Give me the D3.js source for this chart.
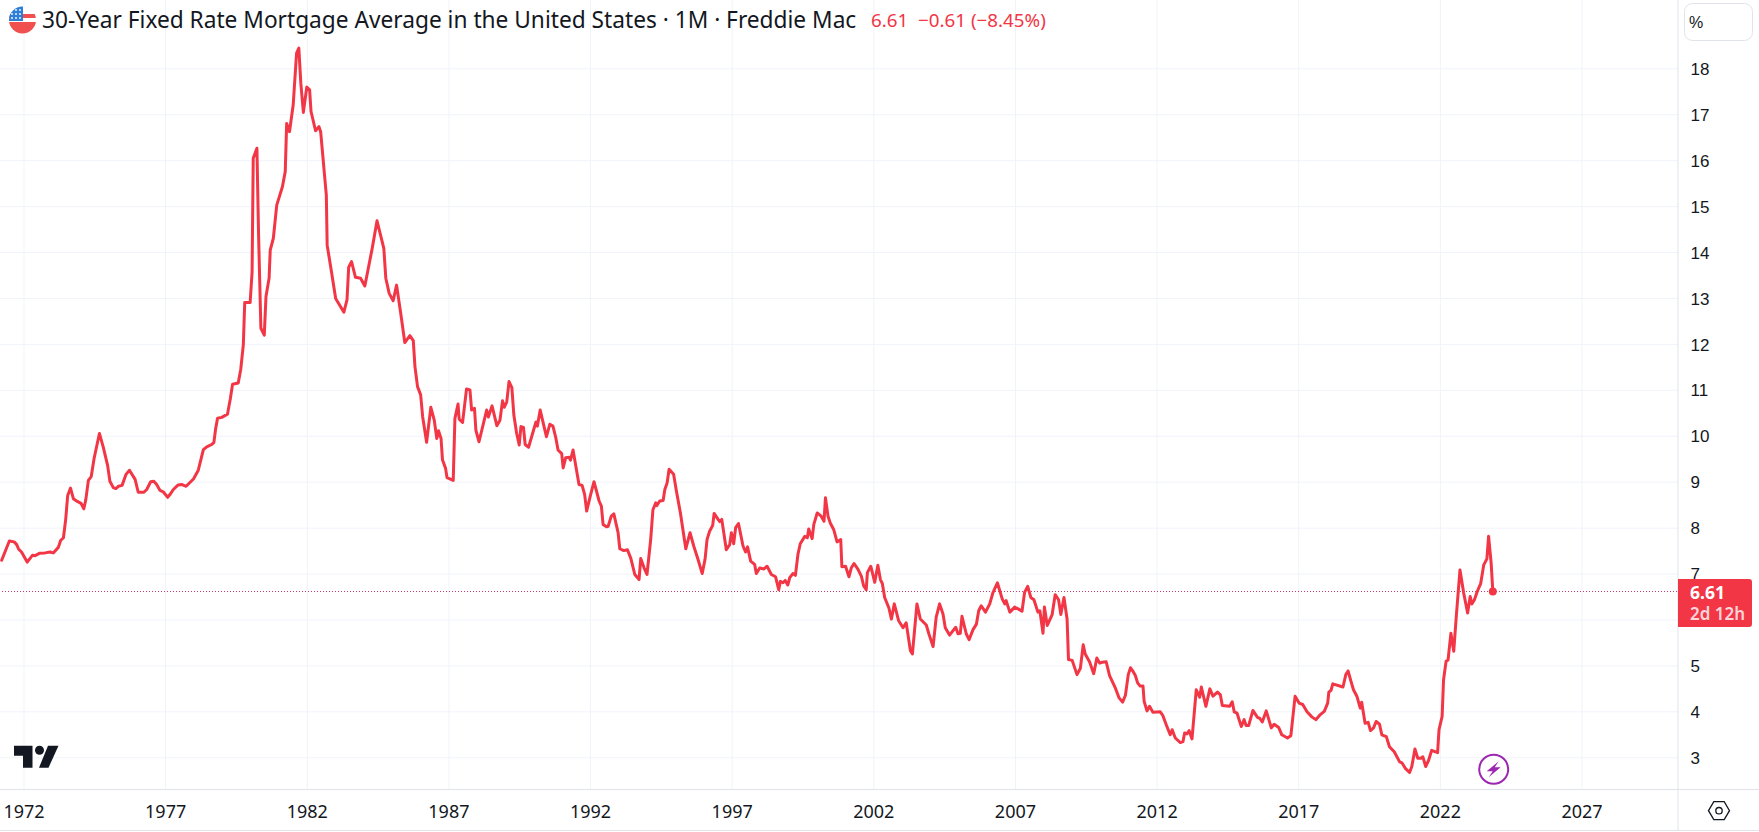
<!DOCTYPE html>
<html><head><meta charset="utf-8">
<style>html,body{margin:0;padding:0;background:#fff;overflow:hidden}svg{display:block}</style>
<script src="https://cdn.jsdelivr.net/npm/d3@7"></script></head>
<body><svg id="c" width="1759" height="832"></svg>
<script>
const titleText = "30-Year Fixed Rate Mortgage Average in the United States · 1M · Freddie Mac";
const quoteText = "6.61  −0.61 (−8.45%)";
const unitLabel = "%";
const lastValue = 6.61;
const lastLabel = "6.61";
const countdownLabel = "2d 12h";
const yearTicks = [1972,1977,1982,1987,1992,1997,2002,2007,2012,2017,2022,2027];
const rateTicks = [3,4,5,6,7,8,9,10,11,12,13,14,15,16,17,18];
const rateLabels = [3,4,5,7,8,9,10,11,12,13,14,15,16,17,18];
const periods1970s = [1971.23,1971.5,1971.67,1971.76,1971.83,1971.93,1972.13,1972.32,1972.41,1972.56,1972.76,1972.94,1973.05,1973.23,1973.31,1973.41,1973.49,1973.56,1973.66,1973.76,1973.9,1974.03,1974.13,1974.2,1974.29,1974.39,1974.49,1974.68,1974.82,1974.97,1975.05,1975.17,1975.26,1975.35,1975.48,1975.62,1975.74,1975.94,1976.05,1976.25,1976.35,1976.49,1976.6,1976.7,1976.82,1976.93,1977.09,1977.17,1977.29,1977.46,1977.58,1977.74,1978.0,1978.17,1978.35,1978.47,1978.64,1978.72,1978.78,1978.85,1979.0,1979.2,1979.3,1979.38,1979.58,1979.67,1979.76,1979.81];
const rates1970s = [7.29,7.71,7.69,7.63,7.53,7.47,7.25,7.40,7.39,7.44,7.45,7.47,7.45,7.57,7.72,7.78,8.18,8.70,8.86,8.63,8.57,8.53,8.41,8.61,9.03,9.11,9.50,10.05,9.74,9.35,9.01,8.87,8.85,8.90,8.92,9.16,9.25,9.05,8.77,8.77,8.83,9.00,9.01,8.94,8.81,8.78,8.66,8.72,8.83,8.93,8.94,8.90,9.06,9.25,9.70,9.76,9.81,9.85,10.14,10.38,10.40,10.47,10.8,11.12,11.15,11.45,11.98,12.90];
const periods1980s = [1980.0,1980.07,1980.11,1980.24,1980.3,1980.38,1980.5,1980.56,1980.67,1980.71,1980.82,1980.94,1981.14,1981.24,1981.29,1981.39,1981.52,1981.64,1981.72,1981.79,1981.88,1982.0,1982.1,1982.15,1982.31,1982.43,1982.49,1982.69,1982.72,1982.88,1983.02,1983.31,1983.42,1983.48,1983.58,1983.72,1983.9,1984.05,1984.31,1984.48,1984.72,1984.79,1984.91,1985.05,1985.17,1985.32,1985.46,1985.64,1985.76,1985.82,1985.91,1986.02,1986.09,1986.23,1986.38,1986.5,1986.59,1986.65,1986.74,1986.79,1986.9,1986.95,1987.17,1987.23,1987.34,1987.38,1987.5,1987.64,1987.76,1987.82,1987.92,1987.97,1988.08,1988.35,1988.41,1988.54,1988.71,1988.82,1988.91,1988.97,1989.06,1989.14,1989.24,1989.31,1989.41,1989.5,1989.56,1989.65,1989.71,1989.83];
const rates1980s = [12.90,13.57,16.04,16.26,14.34,12.34,12.19,13.03,13.43,14.04,14.30,15.02,15.42,15.75,16.80,16.62,17.20,18.33,18.44,17.67,17.04,17.59,17.53,17.06,16.64,16.73,16.62,15.24,14.15,13.54,12.99,12.69,12.96,13.67,13.79,13.45,13.43,13.26,14.08,14.68,14.08,13.43,13.10,12.94,13.28,12.65,12.03,12.18,12.07,11.50,11.07,10.89,10.42,9.86,10.62,10.34,9.94,10.11,9.94,9.48,9.29,9.09,9.03,10.38,10.69,10.36,10.29,11.02,11.0,10.56,10.6,10.12,9.87,10.56,10.41,10.65,10.22,10.34,10.76,10.62,10.74,11.18,11.05,10.45,10.05,9.80,10.2,10.18,9.81,9.75];
const periods1990s = [1990.09,1990.14,1990.24,1990.35,1990.46,1990.58,1990.69,1990.79,1990.87,1991.0,1991.05,1991.14,1991.26,1991.31,1991.4,1991.61,1991.72,1991.81,1991.88,1992.01,1992.14,1992.32,1992.4,1992.46,1992.58,1992.64,1992.75,1992.84,1992.99,1993.05,1993.19,1993.32,1993.44,1993.58,1993.73,1993.79,1993.91,1994.01,1994.14,1994.22,1994.32,1994.36,1994.46,1994.58,1994.64,1994.72,1994.79,1994.95,1995.05,1995.19,1995.38,1995.53,1995.66,1995.81,1995.96,1996.06,1996.13,1996.22,1996.33,1996.38,1996.52,1996.58,1996.65,1996.81,1996.93,1996.99,1997.07,1997.14,1997.24,1997.4,1997.49,1997.56,1997.67,1997.81,1997.87,1997.99,1998.14,1998.25,1998.4,1998.55,1998.66,1998.72,1998.81,1998.89,1998.98,1999.05,1999.16,1999.25,1999.34,1999.42,1999.58,1999.67,1999.72,1999.84,1999.9];
const rates1990s = [10.3,10.21,10.56,10.27,9.98,10.25,10.21,9.96,9.69,9.61,9.30,9.52,9.53,9.47,9.69,8.94,8.92,8.72,8.36,8.69,9.0,8.58,8.47,8.07,8.02,8.03,8.25,8.30,7.89,7.54,7.50,7.52,7.33,6.98,6.87,7.33,7.12,6.98,7.74,8.39,8.54,8.48,8.58,8.59,8.83,8.97,9.27,9.16,8.79,8.32,7.54,7.89,7.60,7.31,7.0,7.31,7.74,7.92,8.05,8.31,8.18,8.13,8.18,7.52,7.63,7.89,7.65,8.0,8.09,7.6,7.47,7.58,7.27,7.2,7.0,7.12,7.1,7.16,6.98,6.93,6.65,6.83,6.8,6.85,6.75,6.91,7.0,6.96,7.42,7.65,7.81,7.78,7.97,7.76,8.07];
const periods2000s = [2000.02,2000.16,2000.26,2000.31,2000.4,2000.48,2000.6,2000.72,2000.85,2000.89,2001.02,2001.14,2001.22,2001.32,2001.46,2001.58,2001.66,2001.75,2001.79,2001.91,2002.05,2002.16,2002.25,2002.32,2002.4,2002.55,2002.64,2002.74,2002.89,2003.05,2003.16,2003.31,2003.38,2003.54,2003.66,2003.87,2003.96,2004.11,2004.22,2004.34,2004.46,2004.54,2004.69,2004.91,2004.99,2005.07,2005.13,2005.28,2005.38,2005.52,2005.64,2005.72,2005.81,2005.96,2006.11,2006.22,2006.38,2006.55,2006.64,2006.69,2006.82,2006.99,2007.14,2007.25,2007.34,2007.45,2007.56,2007.67,2007.81,2007.88,2007.99,2008.04,2008.14,2008.31,2008.42,2008.54,2008.62,2008.73,2008.84,2008.89,2009.02,2009.19,2009.31,2009.41,2009.48,2009.64,2009.78,2009.89,2009.99];
const rates2000s = [8.32,8.25,8.14,8.65,8.25,8.10,7.96,7.69,7.74,7.15,7.16,6.93,7.12,7.22,7.09,6.94,6.73,6.65,7.02,7.16,6.81,7.18,6.87,6.78,6.48,6.25,6.01,6.34,5.98,5.82,5.93,5.32,5.25,6.34,6.01,5.88,5.69,5.41,6.05,6.34,6.12,5.82,5.66,5.83,5.69,5.70,6.07,5.69,5.56,5.78,5.90,6.19,6.30,6.16,6.34,6.58,6.80,6.45,6.34,6.41,6.16,6.27,6.22,6.18,6.59,6.72,6.48,6.43,6.16,6.19,5.70,6.27,5.87,6.10,6.54,6.43,6.11,6.48,6.01,5.13,5.11,4.80,4.94,5.45,5.25,5.07,4.82,5.16,5.05];
const periods2010s = [2010.08,2010.22,2010.34,2010.55,2010.67,2010.8,2010.9,2011.0,2011.08,2011.17,2011.25,2011.33,2011.42,2011.52,2011.56,2011.66,2011.75,2011.87,2012.13,2012.22,2012.34,2012.48,2012.55,2012.66,2012.84,2012.93,2012.99,2013.07,2013.15,2013.25,2013.4,2013.52,2013.58,2013.74,2013.88,2013.99,2014.15,2014.25,2014.32,2014.58,2014.67,2014.74,2014.84,2014.99,2015.09,2015.16,2015.25,2015.4,2015.56,2015.64,2015.73,2015.87,2016.05,2016.15,2016.31,2016.42,2016.62,2016.74,2016.89,2017.03,2017.16,2017.31,2017.48,2017.62,2017.78,2017.92,2018.04,2018.08,2018.16,2018.22,2018.58,2018.68,2018.76,2018.86,2018.95,2019.07,2019.19,2019.24,2019.36,2019.47,2019.55,2019.66,2019.75,2019.87,2019.95];
const rates2010s = [5.07,5.08,4.78,4.5,4.3,4.2,4.35,4.8,4.95,4.87,4.78,4.62,4.55,4.55,4.22,4.01,4.11,3.98,3.99,3.91,3.71,3.49,3.6,3.42,3.32,3.34,3.53,3.51,3.58,3.40,4.47,4.31,4.53,4.11,4.49,4.33,4.42,4.36,4.13,4.11,4.21,3.99,3.96,3.67,3.82,3.69,3.69,4.02,3.87,3.85,3.77,4.01,3.64,3.72,3.65,3.49,3.42,3.47,4.33,4.18,4.15,3.99,3.88,3.82,3.93,4.0,4.18,4.42,4.46,4.6,4.53,4.80,4.88,4.66,4.47,4.33,4.07,4.2,3.74,3.76,3.58,3.64,3.78,3.72,3.49];
const periods2020s = [2020.11,2020.22,2020.39,2020.58,2020.66,2020.78,2020.93,2021.01,2021.12,2021.22,2021.33,2021.4,2021.5,2021.6,2021.71,2021.92,2021.97,2022.08,2022.13,2022.22,2022.29,2022.39,2022.49,2022.58,2022.71,2022.84,2022.98,2023.07,2023.13,2023.22,2023.32,2023.44,2023.55,2023.66,2023.72,2023.81,2023.87];
const rates2020s = [3.45,3.23,3.12,2.9,2.88,2.76,2.67,2.8,3.18,2.98,2.98,3.01,2.8,2.93,3.15,3.1,3.6,3.89,4.69,5.09,5.12,5.7,5.31,6.07,7.08,6.58,6.14,6.5,6.34,6.43,6.61,6.78,7.19,7.32,7.81,7.23,6.61];

const periods = [...periods1970s,...periods1980s,...periods1990s,...periods2000s,...periods2010s,...periods2020s];
const rates = [...rates1970s,...rates1980s,...rates1990s,...rates2000s,...rates2010s,...rates2020s];

const RED="#F23645", GRID="#f0f3fa", AXIS="#e0e3eb", INK="#131722";
const FONT="'Noto Sans', sans-serif";
const plotRight=1678, plotBottom=789;
const svg=d3.select("#c");
const x=d3.scaleLinear().domain([1972,2027]).range([23.5,1581.5]);
const y=d3.scaleLinear().domain([3,18]).range([757.3,68.3]);

// grid
const gx=svg.append("g").attr("transform",`translate(0,${plotBottom})`)
  .call(d3.axisBottom(x).tickValues(yearTicks).tickSize(-plotBottom).tickFormat(""));
gx.select(".domain").remove();
gx.selectAll("line").attr("stroke",GRID);
const gy=svg.append("g").call(d3.axisRight(y).tickValues(rateTicks).tickSize(plotRight).tickFormat(""));
gy.select(".domain").remove();
gy.selectAll("line").attr("stroke",GRID);

// last value dotted line
svg.append("line").attr("x1",2).attr("x2",plotRight).attr("y1",y(lastValue)).attr("y2",y(lastValue))
  .attr("stroke","#c2386a").attr("stroke-width",1).attr("stroke-dasharray","1 2");

// series
const line=d3.line().x((d,i)=>x(periods[i])).y(d=>y(d));
svg.append("path").datum(rates).attr("d",line).attr("fill","none").attr("stroke",RED)
  .attr("stroke-width",3).attr("stroke-linejoin","round").attr("stroke-linecap","round");
svg.append("circle").attr("cx",x(periods[periods.length-1])).attr("cy",y(lastValue)).attr("r",4).attr("fill",RED);

// panels
svg.append("rect").attr("x",plotRight).attr("y",0).attr("width",1759-plotRight).attr("height",832).attr("fill","#fff");
svg.append("rect").attr("x",0).attr("y",plotBottom).attr("width",plotRight).attr("height",43).attr("fill","#fff");
svg.append("line").attr("x1",plotRight).attr("x2",plotRight).attr("y1",0).attr("y2",830).attr("stroke",AXIS).attr("stroke-width",1);
svg.append("line").attr("x1",0).attr("x2",1759).attr("y1",plotBottom+.5).attr("y2",plotBottom+.5).attr("stroke",AXIS);
svg.append("line").attr("x1",0).attr("x2",1759).attr("y1",830.5).attr("y2",830.5).attr("stroke",AXIS);

// axis labels
const ax=svg.append("g").attr("transform",`translate(0,${plotBottom})`)
  .call(d3.axisBottom(x).tickValues(yearTicks).tickSize(0).tickFormat(d3.format("d")));
ax.select(".domain").remove();
ax.selectAll("text").attr("y",0).attr("dy",null).attr("font-family",FONT).attr("font-size",18).attr("fill",INK)
  .attr("transform","translate(0,28.5)");
const ay=svg.append("g").attr("transform",`translate(${plotRight},0)`)
  .call(d3.axisRight(y).tickValues(rateLabels).tickSize(0).tickFormat(d3.format("d")));
ay.select(".domain").remove();
ay.selectAll("text").attr("x",12.5).attr("dy","0.36em").attr("text-anchor","start").attr("font-family","'Liberation Sans', sans-serif").attr("font-size",17).attr("fill",INK);

// price tag
svg.append("path").attr("d","M1678 579H1749a3 3 0 0 1 3 3V624a3 3 0 0 1 -3 3H1678Z").attr("fill",RED);
svg.append("text").attr("x",1690).attr("y",599).attr("font-family",FONT).attr("font-size",17.5).attr("font-weight",700).attr("fill","#fff").text(lastLabel);
svg.append("text").attr("x",1690).attr("y",620).attr("font-family",FONT).attr("font-size",17).attr("font-weight",600).attr("fill","#fbd5d9").text(countdownLabel);

// unit box
svg.append("rect").attr("x",1684.5).attr("y",3.5).attr("width",68).attr("height",37).attr("rx",8).attr("fill","#fff").attr("stroke",AXIS);
svg.append("text").attr("x",1689).attr("y",28).attr("font-family","'Liberation Sans', sans-serif").attr("font-size",16).attr("fill",INK).text(unitLabel);

// flag
const defs=svg.append("defs");
defs.append("clipPath").attr("id","fc").append("circle").attr("cx",22.5).attr("cy",20).attr("r",13.5);
const f=svg.append("g").attr("clip-path","url(#fc)");
f.append("rect").attr("x",9).attr("y",6).attr("width",27).attr("height",28).attr("fill","#fff");
d3.range(3).forEach(i=>f.append("rect").attr("x",9).attr("y",[14,22,30][i]).attr("width",27).attr("height",[4,8,4][i]).attr("fill","#f0504f"));
f.append("rect").attr("x",9).attr("y",6).attr("width",14).attr("height",15).attr("fill","#2f7fd8");
d3.range(3).forEach(r=>d3.range(3).forEach(c=>f.append("circle").attr("cx",12+c*4).attr("cy",10+r*4).attr("r",.9).attr("fill","#fff")));

// title
svg.append("text").attr("x",42).attr("y",28).attr("font-family",FONT).attr("font-size",22.7).attr("fill",INK).text(titleText);
svg.append("text").attr("x",871).attr("y",27).attr("font-family",FONT).attr("font-size",18.8).attr("fill",RED).attr("style","white-space:pre").text(quoteText);

// TV logo
const logo=svg.append("g").attr("transform","translate(14,745.7)").attr("fill",INK);
logo.append("path").attr("d","M0 0H18.5V22H9V10H0Z");
logo.append("circle").attr("cx",25.5).attr("cy",4.5).attr("r",4.5);
logo.append("path").attr("d","M34 0H44.5L34.5 22H25Z");

// bolt icon
const b=svg.append("g").attr("transform","translate(1493.7,769.3)");
b.append("circle").attr("r",14.5).attr("fill","#fff").attr("stroke","#9c27b0").attr("stroke-width",2);
b.append("path").attr("d","M5 -8L-7 2H-1L-5 8L7 -2H1Z").attr("fill","#9c27b0");

// settings hexagon
const h=svg.append("g").attr("transform","translate(1719,810.7)").attr("fill","none").attr("stroke",INK).attr("stroke-width",1.3);
h.append("path").attr("d","M-10.5 0L-5.2 -9H5.2L10.5 0L5.2 9H-5.2Z");
h.append("circle").attr("r",3.2);
</script></body></html>
